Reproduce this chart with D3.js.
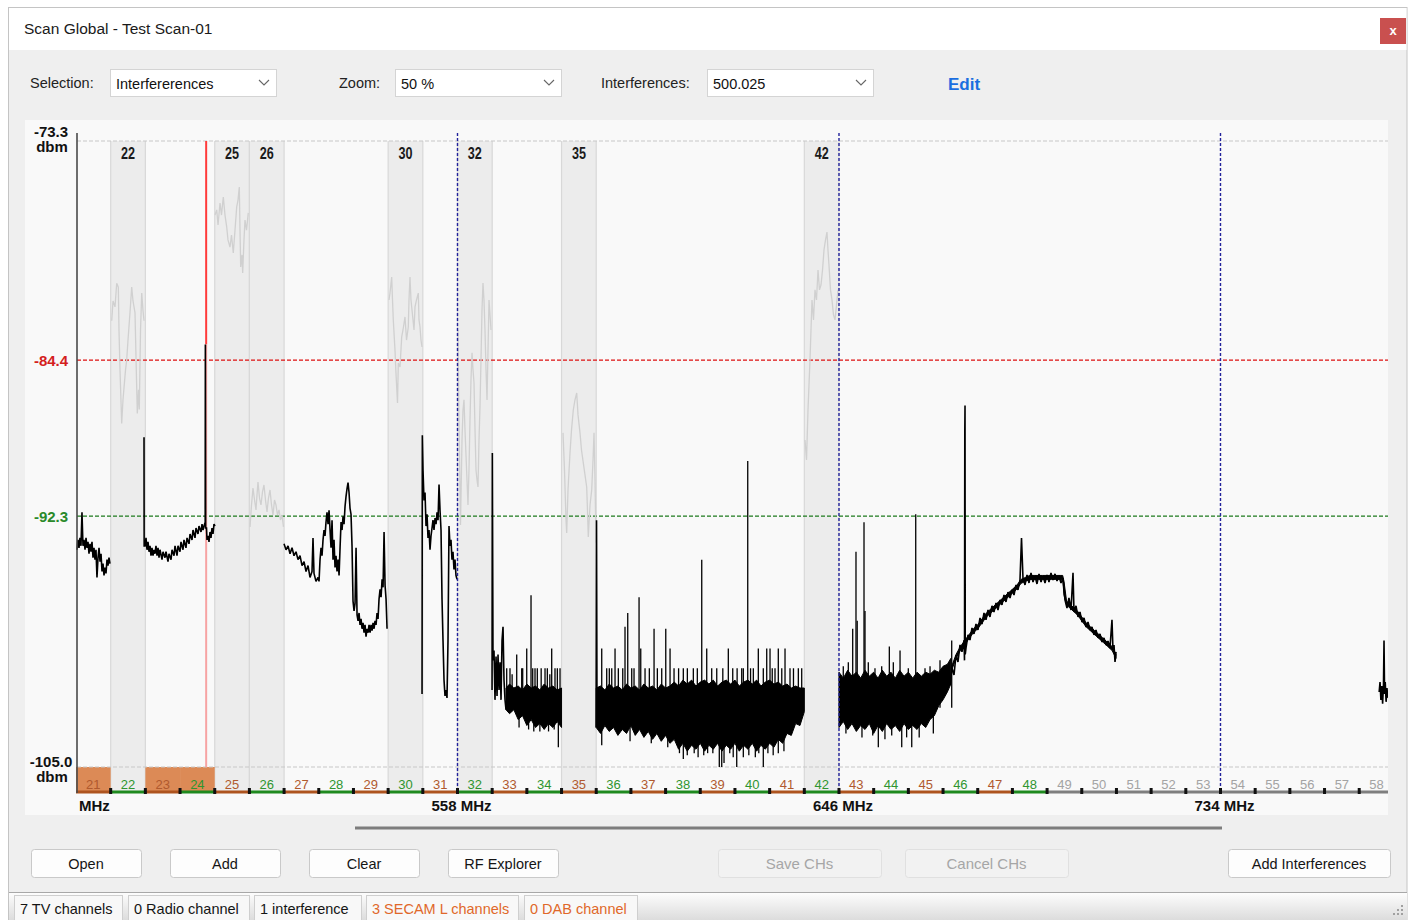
<!DOCTYPE html>
<html><head><meta charset="utf-8">
<script src="https://cdn.jsdelivr.net/npm/d3@7/dist/d3.min.js"></script>
<style>
html,body{margin:0;padding:0;background:#fff;overflow:hidden}
svg{display:block}
</style></head>
<body><svg id="chart" width="1409" height="920"></svg>
<script>
// ================= DATA =================
const channelNumbers = [21,22,23,24,25,26,27,28,29,30,31,32,33,34,35,36,37,38,39,40,41,42,43,44,45,46,47,48,49,50,51,52,53,54,55,56,57,58];
const tvChannels = [22,25,26,30,32,35,42];
const secamChannels = [21,23,24];
const greyChannels = [49,50,51,52,53,54,55,56,57,58];
const levelTicks = [-73.3,-84.4,-92.3,-105.0];
const freqTicks = [558,646,734];
const interferenceMHz = 500.025;
const interferencePeak = -83.6;

const trace21 = [[470.23,-94.0],[470.46,-93.5],[470.69,-93.9],[470.92,-93.4],[471.15,-93.8],[471.38,-92.1],[471.61,-93.8],[471.85,-93.5],[472.08,-94.0],[472.31,-93.4],[472.54,-93.9],[472.77,-93.6],[473.00,-94.2],[473.23,-93.7],[473.46,-94.1],[473.69,-93.6],[473.92,-94.4],[474.15,-93.9],[474.38,-94.5],[474.61,-94.0],[474.84,-95.4],[475.08,-94.4],[475.31,-93.9],[475.54,-94.6],[475.77,-94.2],[476.00,-95.1],[476.23,-94.7],[476.46,-95.3],[476.69,-94.9],[476.92,-95.2],[477.15,-94.5],[477.38,-94.8],[477.61,-94.4],[477.84,-94.7]];

const trace23 = [[485.69,-88.3],[485.72,-93.8],[485.92,-93.8],[486.15,-93.4],[486.38,-94.0],[486.61,-93.6],[486.84,-94.1],[487.07,-93.8],[487.30,-94.3],[487.53,-93.9],[487.76,-94.3],[487.99,-94.0],[488.22,-94.2],[488.45,-93.8],[488.69,-94.3],[488.92,-93.9],[489.15,-94.4],[489.38,-94.0],[489.84,-94.5],[490.07,-94.1],[490.53,-94.4],[490.76,-94.1],[491.22,-94.6],[491.45,-94.2],[491.92,-94.5],[492.15,-94.0],[492.61,-94.3],[492.84,-93.8],[493.30,-94.3],[493.53,-93.8],[493.99,-94.1],[494.22,-93.6],[494.68,-94.0],[494.91,-93.5],[495.37,-93.9],[495.61,-93.4],[496.07,-93.7],[496.30,-93.2],[496.76,-93.5],[496.99,-93.0],[497.45,-93.4],[497.68,-92.9],[498.14,-93.2],[498.37,-92.8],[498.84,-93.1],[499.07,-92.7],[499.30,-93.0],[499.53,-92.8],[499.80,-92.6],[499.84,-83.6],[499.90,-92.9],[500.10,-92.9],[500.22,-93.5],[500.45,-93.3],[500.68,-93.6],[500.91,-93.1],[501.14,-93.4],[501.37,-92.9],[501.60,-93.2],[501.83,-92.7],[502.06,-92.8]];

const trace27 = [[517.98,-93.7],[518.45,-94.0],[518.91,-93.8],[519.37,-94.2],[519.83,-93.9],[520.29,-94.3],[520.75,-94.1],[521.21,-94.5],[521.67,-94.3],[522.14,-94.8],[522.60,-94.6],[523.06,-95.1],[523.52,-94.8],[523.98,-95.4],[524.44,-95.1],[524.67,-93.4],[524.90,-95.2],[525.36,-95.6],[525.83,-95.4],[526.06,-95.6],[526.29,-94.5],[526.52,-93.9],[526.75,-94.3],[526.98,-93.5],[527.21,-93.0],[527.44,-93.3],[527.67,-92.6],[527.90,-92.1],[528.14,-92.7],[528.37,-92.0],[528.60,-93.0],[528.83,-93.9],[529.06,-92.5],[529.29,-94.5],[529.52,-93.5],[529.75,-94.9],[529.98,-94.3],[530.21,-95.1],[530.45,-94.5],[530.68,-95.3],[530.91,-93.9],[531.14,-92.6],[531.37,-93.0],[531.60,-92.3],[531.83,-92.7],[532.06,-91.8],[532.29,-91.3],[532.52,-90.9],[532.75,-90.6],[532.98,-91.1],[533.21,-91.9],[533.44,-92.2],[533.67,-93.8],[533.90,-96.6],[534.14,-97.1],[534.37,-96.7],[534.60,-93.9],[534.83,-97.3],[535.06,-97.6],[535.29,-97.2],[535.52,-97.8],[535.75,-97.5],[535.98,-98.0],[536.21,-97.7],[536.44,-98.2],[536.67,-97.8],[536.90,-98.4],[537.14,-98.0],[537.37,-98.2],[537.60,-97.8],[537.83,-98.2],[538.06,-97.8],[538.29,-98.1],[538.52,-97.7],[538.75,-98.0],[538.98,-97.6],[539.21,-97.8],[539.44,-97.2],[539.67,-97.5],[539.90,-96.5],[540.14,-96.0],[540.37,-96.4],[540.60,-95.5],[540.83,-95.9],[541.06,-93.1],[541.29,-95.8],[541.52,-96.5],[541.75,-98.0]];

const trace31 = [[549.82,-101.3],[549.89,-88.2],[550.05,-90.0],[550.28,-91.5],[550.51,-91.1],[550.74,-92.8],[550.97,-92.2],[551.20,-93.4],[551.43,-93.0],[551.66,-94.0],[551.89,-93.3],[552.12,-92.9],[552.35,-92.5],[552.58,-93.0],[552.82,-92.4],[553.05,-92.7],[553.28,-92.1],[553.51,-92.5],[553.74,-90.7],[553.97,-92.0],[554.20,-93.0],[554.43,-96.5],[554.66,-98.6],[554.89,-100.6],[555.12,-101.4],[555.35,-101.1],[555.58,-101.5],[555.81,-98.6],[556.04,-92.8],[556.27,-93.8],[556.50,-93.5],[556.73,-94.5],[556.96,-94.1],[557.19,-95.0],[557.42,-94.5],[557.65,-95.3],[557.88,-95.5]];

const trace33 = [[565.97,-101.1],[566.04,-89.1],[566.19,-99.6],[566.42,-99.1],[566.65,-101.6],[566.89,-99.4],[567.12,-101.4],[567.35,-99.3],[567.58,-101.1],[567.81,-99.7],[568.04,-101.6],[568.27,-98.6],[568.50,-97.9],[568.73,-100.6],[568.96,-101.6],[569.19,-102.1]];
const band33 = [[569.19,-102.1,-101.0],[570,-102.3,-100.8],[571,-102.1,-101.0],[572,-102.6,-100.9],[573,-102.4,-101.1],[574,-102.9,-100.8],[575,-102.6,-101.0],[576,-103.0,-100.9],[577,-102.8,-101.1],[578,-103.1,-100.8],[579,-102.8,-101.0],[580,-103.0,-100.9],[581,-102.7,-101.1],[582,-103.0,-101.0]];
const spikes33 = [[569.35,-100.0],[570.11,-100.0],[570.6,-100.3],[571.66,-99.3],[572.81,-100.0],[573.04,-100.0],[573.97,-99.0],[574.96,-96.3],[575.35,-100.0],[575.88,-100.0],[576.41,-100.0],[577.3,-100.0],[578.19,-100.0],[578.72,-100.0],[579.3,-100.3],[579.73,-99.0],[580.49,-100.0],[581.03,-100.0],[581.65,-100.0],
  [581.26,-104.0],[572.2,-103.0],[574.4,-103.1],[575.6,-103.2],[577.0,-103.2],[579.0,-103.2],[580.3,-103.1]];

const edge36 = [[589.97,-103.0],[590.07,-92.5],[590.17,-101.2]];
const band36 = [[590,-103.0,-101.0],[591,-103.3,-100.9],[592,-102.9,-101.1],[593,-103.2,-100.8],[594,-103.0,-101.0],[595,-103.4,-100.9],[596,-103.1,-101.1],[597,-103.3,-100.8],[598,-102.9,-101.0],[599,-103.4,-100.9],[600,-103.1,-101.1],[601,-103.5,-100.8],[602,-103.2,-101.0],[603,-103.6,-100.9],[604,-103.3,-101.1],[605,-103.7,-100.8],[606,-103.4,-101.0],[607,-103.8,-100.9],[608,-103.6,-100.7],[609,-104.1,-100.9],[610,-103.8,-100.6],[611,-104.2,-100.8],[612,-103.9,-100.6],[613,-104.1,-100.9],[614,-103.8,-100.7],[615,-104.2,-100.6],[616,-103.9,-100.8],[617,-104.1,-100.6],[618,-103.8,-100.9],[619,-104.2,-100.7],[620,-103.9,-100.6],[621,-104.1,-100.8],[622,-103.8,-100.6],[623,-104.2,-100.9],[624,-103.9,-100.7],[625,-104.1,-100.6],[626,-103.8,-100.8],[627,-104.2,-100.6],[628,-103.9,-100.9],[629,-104.1,-100.7],[630,-103.8,-100.6],[631,-104.0,-100.8],[632,-103.6,-100.7],[633,-103.8,-100.9],[634,-103.3,-100.8],[635,-103.4,-101.0],[636,-102.8,-100.9],[637,-102.9,-101.0],[638,-102.2,-101.0]];
const spikes36 = [[591.27,-99.0],[592.42,-100.0],[593.02,-100.0],[593.58,-100.0],[594.34,-99.0],[595.10,-100.0],[596.12,-100.0],[596.64,-97.9],[597.27,-97.2],[598.19,-100.0],[598.72,-100.0],[599.88,-96.4],[600.27,-99.0],[601.26,-100.0],[602.25,-100.0],[603.34,-98.0],[604.10,-100.0],[605.11,-100.0],[606.04,-98.0],[607.03,-99.0],[607.95,-100.0],[609.0,-100.0],[610.09,-100.0],[611.02,-100.0],[612.40,-100.0],[613.32,-100.0],[614.34,-94.5],[615.49,-99.0],[616.64,-100.0],[617.80,-100.0],[619.2,-100.0],[620.47,-99.0],[621.49,-100.0],[622.5,-100.0],[623.56,-100.0],[623.93,-100.0],[624.95,-89.5],[625.6,-100.0],[626.24,-100.0],[627.39,-99.0],[628.54,-100.0],[629.33,-99.0],[630.09,-99.0],[630.6,-100.0],[631.24,-100.0],[632.00,-99.0],[632.8,-100.0],[633.55,-99.0],[634.70,-100.0],[635.5,-100.0],[636.62,-100.0],[637.40,-100.0],
  [591.27,-103.9],[597.8,-103.7],[602.7,-103.8],[606.5,-104.0],[609.2,-104.3],[610.09,-104.6],[611.0,-104.4],[612.6,-104.3],[613.5,-104.5],[614.8,-104.4],[615.7,-104.3],[616.9,-104.3],[618.39,-105.0],[618.95,-105.0],[619.48,-104.8],[620.8,-104.3],[621.6,-104.5],[622.41,-105.0],[623.93,-104.5],[625.2,-104.4],[626.7,-104.5],[627.5,-104.3],[628.54,-105.0],[629.6,-104.3],[630.82,-104.4],[632.0,-104.3],[633.3,-104.2]];

const band43 = [[646,-103.0,-100.2],[647,-102.7,-100.5],[648,-103.1,-100.1],[649,-102.8,-100.4],[650,-103.2,-100.2],[651,-102.9,-100.5],[652,-103.1,-100.1],[653,-102.8,-100.4],[654,-103.3,-100.2],[655,-102.9,-100.5],[656,-103.2,-100.1],[657,-102.8,-100.4],[658,-103.1,-100.2],[659,-102.9,-100.5],[660,-103.2,-100.1],[661,-102.8,-100.4],[662,-103.1,-100.2],[663,-102.9,-100.5],[664,-103.1,-100.2],[665,-102.8,-100.4],[666,-103.0,-100.2],[667,-102.6,-100.3],[668,-102.4,-100.1],[669,-101.9,-100.2],[670,-101.6,-99.9],[671,-101.2,-99.8],[671.8,-100.8,-99.5]];
const spikes43 = [[646.99,-99.9],[648.15,-99.7],[649.16,-98.0],[649.92,-94.1],[650.2,-97.6],[651.77,-92.6],[652.00,-97.1],[652.76,-99.7],[654.3,-100.0],[655.85,-99.9],[657.61,-98.9],[658.53,-99.7],[660.08,-99.1],[661.99,-100.0],[663.70,-92.2],[665.84,-100.0],[667.0,-99.9],[669.30,-99.6],[672.00,-98.6],
  [647.6,-103.3],[651.3,-103.5],[653.78,-103.4],[655.07,-104.0],[656.6,-103.6],[658.16,-103.4],[660.47,-104.0],[661.6,-103.5],[662.78,-104.0],[664.5,-103.5],[667.76,-103.3]];
const ramp43 = [[671.61,-100.84],[672.07,-99.98],[672.53,-100.34],[672.99,-99.33],[673.45,-99.68],[673.91,-98.82],[674.37,-99.17],[674.84,-98.57],[674.95,-99.6],[675.02,-88.0],[675.07,-86.7],[675.12,-99.3],[675.30,-98.97],[675.76,-98.31],[676.22,-98.57],[676.68,-97.96],[677.14,-98.26],[677.60,-97.76],[678.06,-98.06],[678.53,-97.45],[678.99,-97.76],[679.45,-97.20],[679.91,-97.55],[680.37,-97.05],[680.83,-97.40],[681.29,-96.84],[681.75,-97.15],[682.22,-96.69],[682.68,-97.05],[683.14,-96.54],[683.60,-96.79],[684.06,-96.29],[684.52,-96.64],[684.98,-96.14],[685.45,-96.44],[685.91,-96.03],[686.37,-96.29],[686.83,-95.78],[687.29,-96.03],[687.75,-95.53],[688.10,-93.40],[688.44,-95.43],[688.91,-95.78],[689.37,-95.27],[689.83,-95.68],[690.29,-95.17],[690.75,-95.63],[691.21,-95.33],[691.67,-95.73],[692.14,-95.22],[692.60,-95.63],[693.06,-95.33],[693.52,-95.68],[693.98,-95.27],[694.44,-95.63],[694.90,-95.17],[695.36,-95.53],[695.83,-95.22],[696.29,-95.58],[696.75,-95.33],[697.21,-95.68],[697.67,-95.43],[698.13,-96.54],[698.59,-96.95],[699.05,-96.44],[699.52,-97.05],[699.98,-95.17],[700.21,-97.15],[700.67,-96.84],[701.13,-97.40],[701.59,-97.15],[702.05,-97.66],[702.52,-97.45],[702.98,-97.91],[703.44,-97.66],[703.90,-98.06],[704.36,-97.91],[704.82,-98.31],[705.28,-98.06],[705.74,-98.46],[706.21,-98.26],[706.67,-98.67],[707.13,-98.46],[707.59,-98.82],[708.05,-98.62],[708.51,-98.97],[708.97,-97.55],[709.20,-99.07],[709.44,-98.82],[709.67,-99.68],[709.90,-99.17]];
const rampBand43 = [[672,-100.1,-99.9],[673,-99.5,-99.3],[674,-99.1,-98.9],[675,-98.8,-98.6],[676,-98.5,-98.3],[677,-98.2,-98.0],[678,-98.0,-97.8],[679,-97.7,-97.5],[680,-97.4,-97.2],[681,-97.2,-97.0],[682,-97.0,-96.8],[683,-96.8,-96.6],[684,-96.6,-96.4],[685,-96.4,-96.2],[686,-96.2,-96.0],[687,-96.0,-95.8],[688,-95.7,-95.5],[689,-95.6,-95.4],[690,-95.5,-95.3],[691,-95.5,-95.3],[692,-95.5,-95.3],[693,-95.5,-95.3],[694,-95.5,-95.3],[695,-95.5,-95.3],[696,-95.5,-95.3],[697,-95.5,-95.3],[697.6,-95.5,-95.3],[697.9,-96.3,-95.6],[698.5,-96.8,-96.6],[699,-96.9,-96.7],[700,-97.1,-96.9],[701,-97.3,-97.1],[702,-97.6,-97.4],[703,-97.9,-97.7],[704,-98.1,-97.9],[705,-98.3,-98.1],[706,-98.5,-98.3],[707,-98.7,-98.5],[708,-98.9,-98.7],[709,-99.1,-98.9],[709.9,-99.5,-99.3]];

const trace58 = [[770.6,-101.2],[770.8,-100.7],[771.0,-101.6],[771.2,-100.9],[771.4,-101.8],[771.6,-100.8],[771.72,-98.6],[771.85,-101.3],[772.0,-100.7],[772.2,-101.7],[772.4,-101.0],[772.6,-101.5]];

const ghost22 = [[478.24,-82.4],[478.54,-81.4],[479.00,-81.7],[479.39,-80.5],[479.76,-80.7],[479.92,-82.9],[480.15,-84.9],[480.54,-87.6],[480.84,-86.4],[481.07,-85.8],[481.42,-84.9],[481.69,-84.4],[481.99,-83.4],[482.45,-82.0],[482.85,-80.7],[483.15,-81.4],[483.61,-82.0],[483.96,-85.4],[484.14,-87.1],[484.42,-85.9],[484.60,-86.9],[484.88,-82.9],[485.16,-81.0],[485.46,-81.9],[485.69,-82.4]];
const ghost25 = [[502.06,-77.05],[502.46,-76.79],[502.76,-77.55],[503.22,-76.44],[503.56,-77.05],[503.98,-76.14],[504.37,-77.05],[504.76,-77.65],[505.06,-78.31],[505.52,-78.67],[505.87,-78.06],[506.28,-78.97],[506.68,-77.81],[507.07,-76.64],[507.37,-76.29],[507.67,-75.63],[507.83,-77.81],[507.99,-79.68],[508.29,-79.07],[508.45,-79.98],[508.75,-78.31],[508.98,-77.30],[509.33,-77.81],[509.74,-76.94]];
const ghost26 = [[510.14,-92.84],[510.48,-91.73],[510.83,-90.87],[511.18,-91.48],[511.52,-91.98],[511.75,-91.22],[511.98,-90.57],[512.33,-91.38],[512.67,-91.73],[513.02,-91.07],[513.36,-90.72],[513.71,-91.48],[514.06,-92.08],[514.40,-91.38],[514.75,-90.97],[515.10,-91.73],[515.44,-92.24],[515.79,-91.48],[516.13,-91.73],[516.48,-92.24],[516.83,-91.98],[517.17,-92.49],[517.52,-92.24],[517.86,-92.84]];
const ghost30 = [[542.20,-81.35],[542.43,-81.00],[542.82,-80.19],[543.01,-81.35],[543.19,-82.36],[543.58,-83.88],[543.81,-85.05],[544.16,-86.57],[544.35,-84.54],[544.74,-84.74],[545.13,-83.22],[545.43,-82.87],[545.89,-82.21],[546.24,-83.38],[546.65,-82.72],[546.81,-81.35],[547.04,-80.19],[547.27,-81.35],[547.67,-82.21],[547.97,-82.87],[548.20,-81.70],[548.54,-81.35],[548.96,-81.00],[549.12,-82.36],[549.35,-82.72],[549.58,-83.38],[549.81,-83.73]];
const ghost32 = [[558.12,-82.87],[558.35,-87.43],[558.69,-92.74],[558.92,-89.96],[559.04,-88.44],[559.27,-86.92],[559.50,-86.41],[559.73,-87.93],[559.96,-89.20],[560.19,-90.46],[560.42,-91.73],[560.65,-89.96],[560.88,-87.43],[561.11,-85.40],[561.35,-84.03],[561.58,-84.89],[561.81,-85.55],[562.04,-87.93],[562.27,-89.96],[562.50,-90.46],[562.73,-90.82],[562.96,-88.44],[563.19,-86.77],[563.42,-84.39],[563.65,-81.86],[563.88,-80.49],[564.11,-81.35],[564.34,-82.87],[564.58,-84.89],[564.81,-86.41],[565.04,-83.88],[565.27,-81.35],[565.50,-82.11],[565.73,-82.87]];
const ghost35 = [[582.34,-88.08],[582.68,-89.96],[583.03,-92.49],[583.19,-93.15],[583.49,-90.97],[583.95,-89.10],[584.30,-87.93],[584.71,-86.92],[585.10,-86.41],[585.50,-86.06],[585.80,-87.17],[586.26,-88.08],[586.60,-88.95],[587.02,-89.60],[587.41,-90.21],[587.80,-90.82],[587.98,-91.98],[588.17,-93.35],[588.57,-91.73],[588.96,-90.97],[589.26,-89.45],[589.49,-88.08],[589.72,-90.46],[589.95,-93.65]];
const ghost42 = [[638.16,-88.44],[638.51,-89.45],[638.85,-86.92],[639.31,-84.39],[639.77,-81.35],[640.12,-82.36],[640.46,-80.84],[640.81,-81.35],[641.16,-79.83],[641.50,-80.84],[641.85,-80.59],[642.20,-79.83],[642.54,-78.82],[642.89,-78.31],[643.23,-77.91],[643.46,-78.82],[643.69,-79.58],[644.04,-80.84],[644.39,-81.35],[644.73,-82.11],[645.08,-82.36],[645.43,-81.60],[645.77,-80.84]];

const toolbarLabels = ["Selection:","Zoom:","Interferences:"];
const toolbarValues = ["Interfererences","50 %","500.025"];
const buttonLabels = ["Open","Add","Clear","RF Explorer","Save CHs","Cancel CHs","Add Interferences"];
const disabledButtons = ["Save CHs","Cancel CHs"];
const statusItems = ["7 TV channels","0 Radio channel","1 interference","3 SECAM L channels","0 DAB channel"];
const statusWarn = ["3 SECAM L channels","0 DAB channel"];

// ================= DRAWING =================
const FONT = '"Liberation Sans", Arial, sans-serif';
const svg = d3.select('#chart').style('font-family', FONT);

const x = d3.scaleLinear().domain([470, 774]).range([76, 1393.9]);
const y = d3.scaleLinear().domain([-73.3, -105.0]).range([141, 767]);
const chStart = ch => 470 + (ch - 21) * 8;
const AXIS_Y = 792;

// page + window
svg.append('rect').attr('width',1409).attr('height',920).attr('fill','#ffffff');
svg.append('rect').attr('x',8.5).attr('y',7.5).attr('width',1398.5).attr('height',920).attr('fill','#efefef').attr('stroke','#c4c4c4');
svg.append('rect').attr('x',9).attr('y',8).attr('width',1397.5).attr('height',42).attr('fill','#ffffff');
svg.append('text').attr('x',24).attr('y',34).attr('font-size',15.5).attr('fill','#1a1a1a').text('Scan Global - Test Scan-01');
svg.append('rect').attr('x',1380).attr('y',18).attr('width',26).attr('height',26).attr('fill','#c9504f');
svg.append('text').attr('x',1393).attr('y',35).attr('text-anchor','middle').attr('font-size',13).attr('font-weight','bold').attr('fill','#fff').text('x');

// toolbar
const tbLabelX = [30, 339, 601];
const tbBox = [[110,276],[395,561],[707,873]];
toolbarLabels.forEach((t,i)=>{
  svg.append('text').attr('x',tbLabelX[i]).attr('y',88).attr('font-size',14.5).attr('fill','#222').text(t);
  const [a,b] = tbBox[i];
  svg.append('rect').attr('x',a+0.5).attr('y',69.5).attr('width',b-a).attr('height',27).attr('fill','#fff').attr('stroke','#d4d4d4');
  svg.append('text').attr('x',a+6).attr('y',89).attr('font-size',14.5).attr('fill','#111').text(toolbarValues[i]);
  svg.append('path').attr('d',`M${b-17},${80} L${b-12},${85} L${b-7},${80}`).attr('fill','none').attr('stroke','#666').attr('stroke-width',1.1);
});
svg.append('text').attr('x',948).attr('y',90).attr('font-size',17).attr('font-weight','bold').attr('fill','#1a6ee0').text('Edit');

// chart panel
svg.append('rect').attr('x',25).attr('y',120).attr('width',1363).attr('height',695).attr('fill','#f9f9f9');

const defs = svg.append('defs');
defs.append('clipPath').attr('id','plotClip').append('rect').attr('x',76).attr('y',120).attr('width',1312).attr('height',695);
const plot = svg.append('g').attr('clip-path','url(#plotClip)');

// shaded TV channels
tvChannels.forEach(ch=>{
  const x0 = x(chStart(ch)), x1 = x(chStart(ch)+8);
  plot.append('rect').attr('x',x0).attr('y',141).attr('width',x1-x0).attr('height',AXIS_Y-141).attr('fill','#ececec');
  [x0,x1].forEach(xx=>plot.append('line').attr('x1',xx).attr('x2',xx).attr('y1',141).attr('y2',AXIS_Y).attr('stroke','#d8d8d8').attr('stroke-width',1.2));
});

// SECAM orange cells
secamChannels.forEach(ch=>{
  const x0 = x(chStart(ch)), x1 = x(chStart(ch)+8);
  plot.append('rect').attr('x',x0).attr('y',767).attr('width',x1-x0).attr('height',AXIS_Y-767).attr('fill','#dc8a56');
});

// horizontal level lines
const hline = (v,color,w)=>plot.append('line').attr('x1',77).attr('x2',1388).attr('y1',y(v)).attr('y2',y(v)).attr('stroke',color).attr('stroke-width',w).attr('stroke-dasharray','4,2');
hline(levelTicks[0],'#c8c8c8',1.2);
hline(levelTicks[3],'#c8c8c8',1.2);
hline(levelTicks[1],'#dd1010',1.3);
hline(levelTicks[2],'#1c7a1c',1.3);

// channel labels in shaded columns
tvChannels.forEach(ch=>{
  const cx = x(chStart(ch)+4);
  plot.append('text').attr('x',cx).attr('y',159).attr('text-anchor','middle').attr('font-size',16).attr('font-weight','bold')
    .attr('fill','#1a1a1a').attr('textLength',14).attr('lengthAdjust','spacingAndGlyphs').text(ch);
});

// ghost traces (grey)
const line = d3.line().x(d=>x(d[0])).y(d=>y(d[1]));
[ghost22,ghost25,ghost26,ghost30,ghost32,ghost35,ghost42].forEach(g=>{
  plot.append('path').attr('d',line(g)).attr('fill','none').attr('stroke','#d0d0d0').attr('stroke-width',1.3);
});

// interference line (red above peak, pink below)
const xi = x(interferenceMHz);
plot.append('line').attr('x1',xi).attr('x2',xi).attr('y1',141).attr('y2',y(interferencePeak)).attr('stroke','#ff3b3b').attr('stroke-width',2);
plot.append('line').attr('x1',xi).attr('x2',xi).attr('y1',y(interferencePeak)).attr('y2',767).attr('stroke','#f7a3a3').attr('stroke-width',2);

// black traces
const area = d3.area().x(d=>x(d[0])).y0(d=>y(d[1])).y1(d=>y(d[2]));
[band33,band36,band43,rampBand43].forEach(b=>{
  plot.append('path').attr('d',area(b)).attr('fill','#000').attr('stroke','#000').attr('stroke-width',1);
});
[trace21,trace23,trace27,trace31,trace33,edge36,ramp43,trace58].forEach(t=>{
  plot.append('path').attr('d',line(t)).attr('fill','none').attr('stroke','#000').attr('stroke-width',1.6).attr('stroke-linejoin','miter').attr('stroke-miterlimit',2);
});
[spikes33,spikes36,spikes43].forEach(s=>{
  plot.selectAll(null).data(s).enter().append('line')
    .attr('x1',d=>x(d[0])).attr('x2',d=>x(d[0]))
    .attr('y1',y(-102)).attr('y2',d=>y(d[1]))
    .attr('stroke','#000').attr('stroke-width',1.3);
});

// vertical frequency markers (blue dashed)
freqTicks.forEach(f=>{
  plot.append('line').attr('x1',x(f)).attr('x2',x(f)).attr('y1',133).attr('y2',AXIS_Y).attr('stroke','#22229c').attr('stroke-width',1.4).attr('stroke-dasharray','3,2');
});

// y axis line
svg.append('line').attr('x1',77).attr('x2',77).attr('y1',133).attr('y2',AXIS_Y+1).attr('stroke','#4a4a4a').attr('stroke-width',1.6);

// bottom channel axis
const chColor = ch => greyChannels.includes(ch) ? '#7f7f7f' : (ch % 2 ? '#ae541f' : '#1f8a1f');
const chLabelColor = ch => greyChannels.includes(ch) ? '#a3a3a3' : (ch % 2 ? '#b0592e' : '#2f952f');
channelNumbers.forEach(ch=>{
  const x0 = x(chStart(ch)), x1 = x(chStart(ch)+8);
  plot.append('line').attr('x1',x0).attr('x2',x1).attr('y1',AXIS_Y).attr('y2',AXIS_Y).attr('stroke',chColor(ch)).attr('stroke-width',3);
  plot.append('text').attr('x',(x0+x1)/2).attr('y',788.5).attr('text-anchor','middle').attr('font-size',13).attr('fill',chLabelColor(ch)).text(ch);
});
channelNumbers.forEach(ch=>{
  if (ch===21) return;
  const x0 = x(chStart(ch));
  plot.append('rect').attr('x',x0-1.5).attr('y',788).attr('width',3).attr('height',6).attr('fill','#111');
});

// frequency labels
svg.append('text').attr('x',79).attr('y',811).attr('font-size',15).attr('font-weight','bold').attr('fill','#111').text('MHz');
freqTicks.forEach(f=>{
  svg.append('text').attr('x',x(f)+4).attr('y',811).attr('text-anchor','middle').attr('font-size',15).attr('font-weight','bold').attr('fill','#111').text(`${f} MHz`);
});

// y labels
const lvlColor = ['#111','#d41e1e','#2a8a2a','#111'];
const lvlBase = [137, null, null, 767];
levelTicks.forEach((v,i)=>{
  const base = lvlBase[i] !== null ? lvlBase[i] : y(v)+5.5;
  svg.append('text').attr('x',51).attr('y',base).attr('text-anchor','middle').attr('font-size',15).attr('font-weight','bold').attr('fill',lvlColor[i]).text(v.toFixed(1));
  if (i===0 || i===3) svg.append('text').attr('x',52).attr('y',base+14.5).attr('text-anchor','middle').attr('font-size',15).attr('font-weight','bold').attr('fill','#111').text('dbm');
});

// scrollbar
svg.append('line').attr('x1',355).attr('x2',1222).attr('y1',828).attr('y2',828).attr('stroke','#7d7d7d').attr('stroke-width',3);

// buttons
const btnPos = [[31,141],[170,280],[309,419],[448,558],[718,881],[905,1068],[1228,1390]];
buttonLabels.forEach((b,i)=>{
  const [a,c] = btnPos[i];
  const dis = disabledButtons.includes(b);
  svg.append('rect').attr('x',a+0.5).attr('y',849.5).attr('width',c-a).attr('height',28).attr('rx',3)
    .attr('fill',dis?'#f2f2f2':'#fdfdfd').attr('stroke',dis?'#e0e0e0':'#c9c9c9');
  svg.append('text').attr('x',(a+c)/2).attr('y',869).attr('text-anchor','middle').attr('font-size',dis?15:14.5)
    .attr('fill',dis?'#a6a6a6':'#151515').text(b);
});

// status bar
const sg = defs.append('linearGradient').attr('id','sbGrad').attr('x1',0).attr('x2',0).attr('y1',0).attr('y2',1);
sg.append('stop').attr('offset','0%').attr('stop-color','#fdfdfd');
sg.append('stop').attr('offset','100%').attr('stop-color','#dcdcdc');
svg.append('line').attr('x1',9).attr('x2',1407).attr('y1',892.5).attr('y2',892.5).attr('stroke','#a8a8a8');
svg.append('rect').attr('x',9).attr('y',893).attr('width',1398).attr('height',27).attr('fill','url(#sbGrad)');
const stPos = [[14,122],[128,249],[254,361],[366,518],[524,637]];
statusItems.forEach((s,i)=>{
  const [a,c] = stPos[i];
  svg.append('rect').attr('x',a+0.5).attr('y',895.5).attr('width',c-a).attr('height',26).attr('fill','#f8f8f8').attr('stroke','#cfcfcf');
  svg.append('text').attr('x',a+6).attr('y',914).attr('font-size',14.5).attr('fill',statusWarn.includes(s)?'#e0682a':'#151515').text(s);
});
[[1401,905],[1397,909],[1401,909],[1393,913],[1397,913],[1401,913]].forEach(([a,b])=>{
  svg.append('rect').attr('x',a).attr('y',b).attr('width',2).attr('height',2).attr('fill','#a0a0a0');
});
</script>
</body></html>
